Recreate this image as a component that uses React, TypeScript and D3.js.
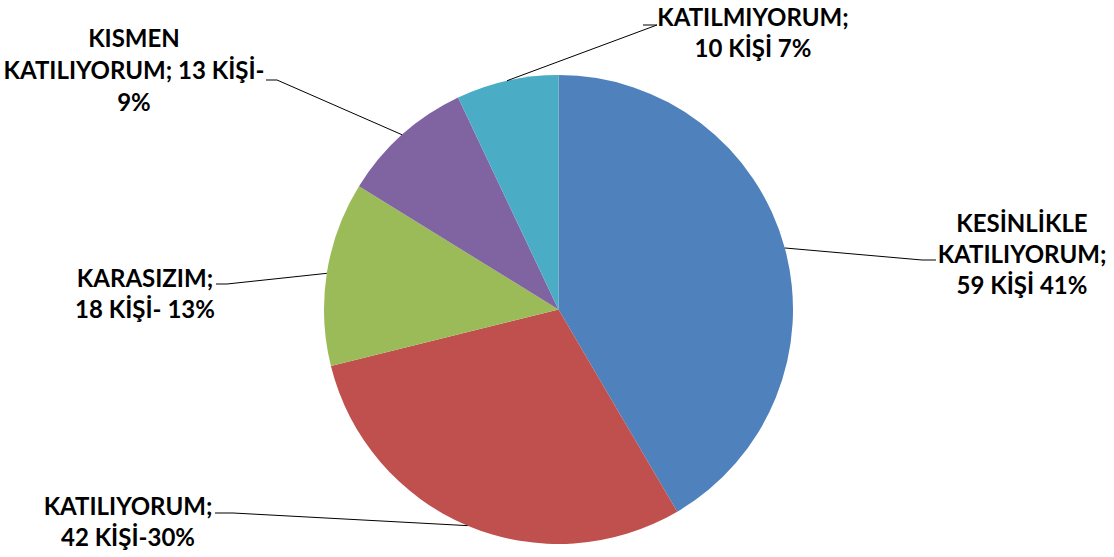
import React from "react";
import * as d3 from "d3";

const categories = [
  "KESİNLİKLE KATILIYORUM",
  "KATILIYORUM",
  "KARASIZIM",
  "KISMEN KATILIYORUM",
  "KATILMIYORUM",
];
const values = [59, 42, 18, 13, 10];
const colors = ["#4F81BD", "#C0504D", "#9BBB59", "#8064A2", "#4BACC6"];
const labelLines = [
  ["KESİNLİKLE", "KATILIYORUM;", "59 KİŞİ 41%"],
  ["KATILIYORUM;", "42 KİŞİ-30%"],
  ["KARASIZIM;", "18 KİŞİ- 13%"],
  ["KISMEN", "KATILIYORUM; 13 KİŞİ-", "9%"],
  ["KATILMIYORUM;", "10 KİŞİ 7%"],
];
// label layout: text centre x, first baseline y, elbow point, horizontal end
const labelPos = [
  { cx: 1022, y0: 232, ex: 922, ey: 260, hx: 936 },
  { cx: 128, y0: 515, ex: 233, ey: 513, hx: 215 },
  { cx: 145, y0: 287, ex: 227, ey: 284, hx: 216 },
  { cx: 134, y0: 47, ex: 277, ey: 80, hx: 266 },
  { cx: 753, y0: 26, ex: 657, ey: 25, hx: 643 },
];

export default function App() {
  const W = 1114, H = 557;
  const cx = 558.5, cy = 309.5, r = 234.5;
  const pie = d3.pie<number>().sort(null).value((d) => d)(values);
  const arc = d3.arc<d3.PieArcDatum<number>>().innerRadius(0).outerRadius(r);
  const lh = 31;
  return (
    <svg width={W} height={H} style={{ position: "absolute", left: 0, top: 0, background: "#fff" }}>
      <g transform={`translate(${cx},${cy})`}>
        {pie.map((p, i) => (
          <path key={categories[i]} d={arc(p) || ""} fill={colors[i]} />
        ))}
      </g>
      {pie.map((p, i) => {
        const a = (p.startAngle + p.endAngle) / 2;
        const px = cx + r * Math.sin(a);
        const py = cy - r * Math.cos(a);
        const L = labelPos[i];
        return (
          <g key={"l" + i}>
            <polyline
              points={`${px},${py} ${L.ex},${L.ey} ${L.hx},${L.ey}`}
              fill="none"
              stroke="#000"
              strokeWidth={1}
            />
            <text
              x={L.cx}
              textAnchor="middle"
              fontFamily="Lato, 'Open Sans', sans-serif"
              fontWeight="bold"
              fontSize={24}
              fill="#000"
            >
              {labelLines[i].map((t, j) => (
                <tspan key={j} x={L.cx} y={L.y0 + j * (i === 3 ? 32 : lh)}>
                  {t}
                </tspan>
              ))}
            </text>
          </g>
        );
      })}
    </svg>
  );
}
